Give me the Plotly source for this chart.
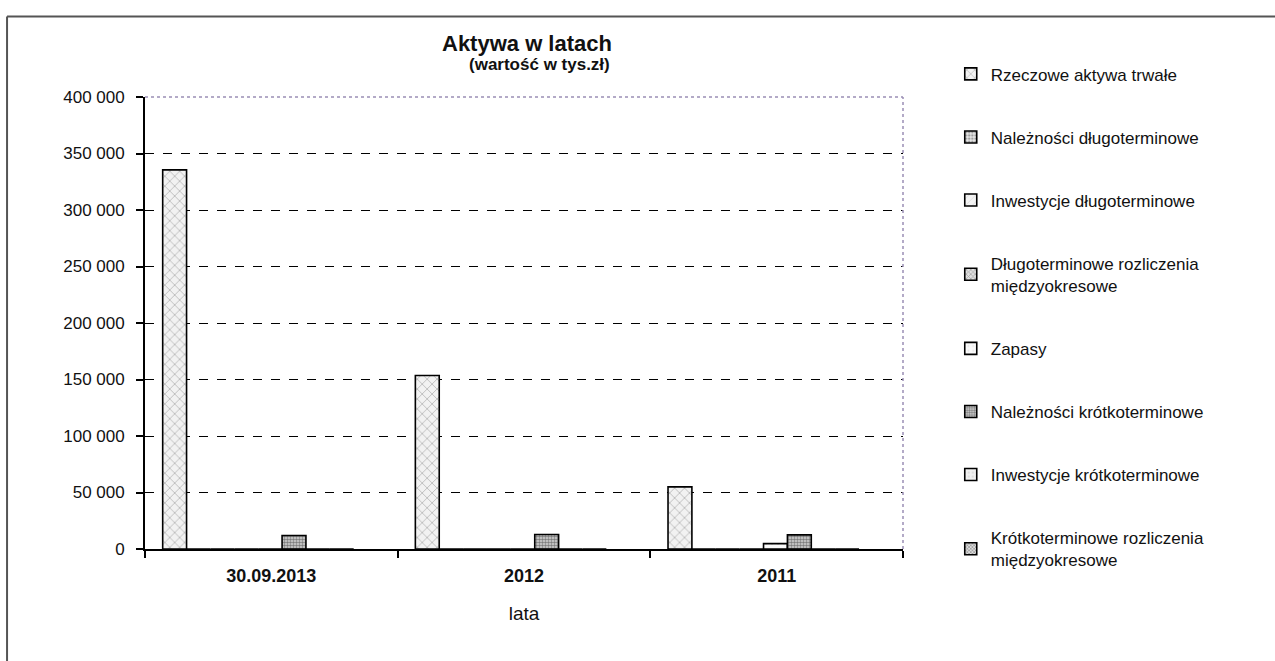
import plotly.graph_objects as go

# Asset categories (reporting dates)
categories = ["30.09.2013", "2012", "2011"]

# Asset values, thousands of PLN
series_names = [
    "Rzeczowe aktywa trwałe",
    "Należności długoterminowe",
    "Inwestycje długoterminowe",
    "Długoterminowe rozliczenia<br>międzyokresowe",
    "Zapasy",
    "Należności krótkoterminowe",
    "Inwestycje krótkoterminowe",
    "Krótkoterminowe rozliczenia<br>międzyokresowe",
]
rzeczowe_aktywa = [335500, 153500, 55000]
naleznosci_dlugo = [0, 0, 0]
inwestycje_dlugo = [0, 0, 0]
rozliczenia_dlugo = [0, 0, 0]
zapasy = [0, 0, 4800]
naleznosci_krotko = [12000, 12800, 12500]
inwestycje_krotko = [0, 0, 0]
rozliczenia_krotko = [0, 0, 0]

series_values = [
    rzeczowe_aktywa, naleznosci_dlugo, inwestycje_dlugo, rozliczenia_dlugo,
    zapasy, naleznosci_krotko, inwestycje_krotko, rozliczenia_krotko,
]

y_ticks = list(range(0, 400001, 50000))
y_tick_text = [f"{v:,}".replace(",", " ") for v in y_ticks]

# Fill patterns for each series (monochrome print style)
patterns = [
    dict(shape="x", fgcolor="#8a8a8a", bgcolor="#f2f2f2", size=7, solidity=0.25),
    dict(shape=".", fgcolor="#555555", bgcolor="#e6e6e6", size=4, solidity=0.5),
    dict(shape="/", fgcolor="#bbbbbb", bgcolor="#f4f4f4", size=6, solidity=0.15),
    dict(shape="x", fgcolor="#666666", bgcolor="#e0e0e0", size=4, solidity=0.4),
    dict(shape=".", fgcolor="#cccccc", bgcolor="#fafafa", size=6, solidity=0.1),
    dict(shape=".", fgcolor="#222222", bgcolor="#d8d8d8", size=3, solidity=0.55),
    dict(shape=".", fgcolor="#bbbbbb", bgcolor="#f0f0f0", size=5, solidity=0.2),
    dict(shape="x", fgcolor="#444444", bgcolor="#dddddd", size=3, solidity=0.45),
]

FONT = "Liberation Sans, Arial, sans-serif"
slot = 0.0945
start = -0.43

fig = go.Figure()
for i, (name, vals) in enumerate(zip(series_names, series_values)):
    fig.add_trace(go.Bar(
        x=categories, y=vals, name=name,
        width=slot, offset=start + i * slot,
        marker=dict(color="#f2f2f2", pattern=patterns[i],
                    line=dict(color="#000000", width=1.6)),
        legendgroup=f"g{i}",
    ))

fig.update_layout(
    width=1275, height=661,
    margin=dict(l=145, r=372, t=97, b=112),
    paper_bgcolor="white", plot_bgcolor="white",
    font=dict(family=FONT, color="#111111", size=16),
    barmode="overlay",
    showlegend=True,
    legend=dict(
        x=1.063, y=1.09, xanchor="left", yanchor="top",
        font=dict(family=FONT, size=17, color="#111111"),
        tracegroupgap=38, bgcolor="rgba(0,0,0,0)",
        maxheight=640, itemclick=False,
    ),
    xaxis=dict(
        type="category", tickson="boundaries",
        ticks="outside", ticklen=7, tickcolor="#000", tickwidth=1.5,
        showline=True, linecolor="#000", linewidth=2,
        showgrid=False, ticklabelstandoff=9,
        tickfont=dict(family=FONT, size=18, color="#111", weight="bold"),
        title=dict(text="lata", font=dict(family=FONT, size=19, color="#111"), standoff=22),
    ),
    yaxis=dict(
        range=[0, 400000], tickvals=y_ticks, ticktext=y_tick_text,
        ticks="outside", ticklen=7, tickcolor="#000", tickwidth=1.5,
        showline=True, linecolor="#000", linewidth=1.8,
        showgrid=True, gridcolor="#000", gridwidth=1.3, griddash="dash",
        zeroline=False, ticklabelstandoff=8,
        tickfont=dict(family=FONT, size=17, color="#111"),
    ),
    annotations=[
        dict(text="<b>Aktywa w latach</b>", xref="paper", yref="paper",
             x=0.504, y=1.119, xanchor="center", yanchor="middle", showarrow=False,
             font=dict(family=FONT, size=22, color="#111")),
        dict(text="<b>(wartość w tys.zł)</b>", xref="paper", yref="paper",
             x=0.52, y=1.071, xanchor="center", yanchor="middle", showarrow=False,
             font=dict(family=FONT, size=17, color="#111")),
    ],
    shapes=[
        # dotted top and right border of the plotting area
        dict(type="line", xref="paper", yref="paper", x0=0, x1=1, y0=1, y1=1,
             line=dict(color="#9b8fb5", width=1.5, dash="dot")),
        dict(type="line", xref="paper", yref="paper", x0=1, x1=1, y0=0, y1=1,
             line=dict(color="#9b8fb5", width=1.5, dash="dot")),
        # outer frame of the chart
        dict(type="line", xref="paper", yref="paper", x0=-0.182, x1=1.5, y0=1.178, y1=1.178,
             line=dict(color="#555", width=2)),
        dict(type="line", xref="paper", yref="paper", x0=-0.182, x1=-0.182, y0=1.178, y1=-0.3,
             line=dict(color="#555", width=2)),
    ],
)

fig.write_html("out.html")
